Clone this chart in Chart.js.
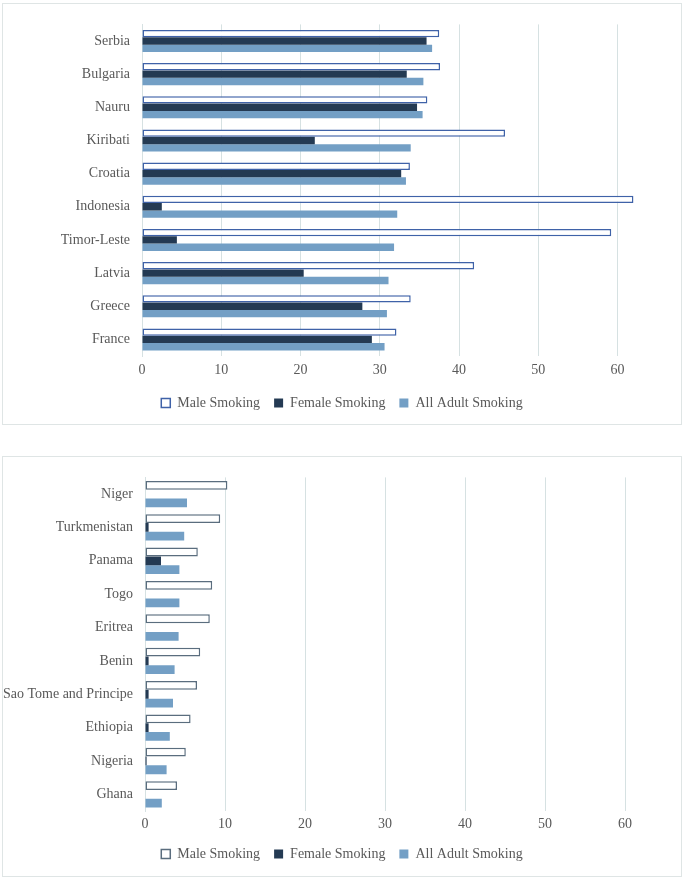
<!DOCTYPE html>
<html>
<head>
<meta charset="utf-8">
<script src="https://cdn.jsdelivr.net/npm/chart.js@4"></script>
<style>
  body { margin: 0; background: #fff; }
  .box { position: absolute; left: 2px; width: 678px; border: 1px solid #dfe5e5; background: #fff; }
  #topBox { top: 3px; height: 420px; }
  #bottomBox { top: 456px; height: 419px; }
</style>
</head>
<body>
<div class="box" id="topBox"><canvas id="topChart"></canvas></div>
<div class="box" id="bottomBox"><canvas id="bottomChart"></canvas></div>
<script>
'use strict';

// highest smoking rates
const topCountries = ['Serbia', 'Bulgaria', 'Nauru', 'Kiribati', 'Croatia', 'Indonesia', 'Timor-Leste', 'Latvia', 'Greece', 'France'];
const topMale = [37.5, 37.6, 36.0, 45.8, 33.8, 62.0, 59.2, 41.9, 33.9, 32.1];
const topFemale = [35.9, 33.4, 34.7, 21.8, 32.7, 2.5, 4.4, 20.4, 27.8, 29.0];
const topAll = [36.6, 35.5, 35.4, 33.9, 33.3, 32.2, 31.8, 31.1, 30.9, 30.6];

// lowest smoking rates
const bottomCountries = ['Niger', 'Turkmenistan', 'Panama', 'Togo', 'Eritrea', 'Benin', 'Sao Tome and Principe', 'Ethiopia', 'Nigeria', 'Ghana'];
const bottomMale = [10.3, 9.4, 6.6, 8.4, 8.1, 6.9, 6.5, 5.7, 5.1, 4.0];
const bottomFemale = [0, 0.45, 2.0, 0, 0, 0.45, 0.45, 0.45, 0.2, 0];
const bottomAll = [5.25, 4.9, 4.3, 4.3, 4.2, 3.7, 3.5, 3.1, 2.7, 2.1];

const seriesNames = ['Male Smoking', 'Female Smoking', 'All Adult Smoking'];

Chart.defaults.font.family = "'Liberation Serif', 'Times New Roman', serif";
Chart.defaults.font.size = 14;
Chart.defaults.color = '#595959';

const gridColor = '#d6e1e2';

const makeChart = (id, labels, male, female, all, opts) => {
  return new Chart(document.getElementById(id).getContext('2d'), {
    type: 'bar',
    data: {
      labels: labels,
      datasets: [
        {
          label: seriesNames[0],
          data: male,
          backgroundColor: '#ffffff',
          borderColor: opts.maleBorder,
          borderWidth: 1.5,
          borderSkipped: false,
        },
        {
          label: seriesNames[1],
          data: female,
          backgroundColor: '#243a53',
          borderWidth: 0,
        },
        {
          label: seriesNames[2],
          data: all,
          backgroundColor: '#739fc5',
          borderWidth: 0,
        },
      ],
    },
    options: {
      indexAxis: 'y',
      responsive: true,
      maintainAspectRatio: false,
      animation: false,
      categoryPercentage: opts.catPct,
      barPercentage: 1,
      layout: {
        padding: { top: opts.padTop, bottom: opts.padBottom, left: 0, right: 0 },
      },
      plugins: {
        legend: {
          position: 'bottom',
          labels: {
            boxWidth: 9,
            boxHeight: 9,
            padding: 14,
            color: '#595959',
          },
        },
        tooltip: { enabled: false },
      },
      scales: {
        x: {
          min: 0,
          max: opts.xMax,
          ticks: { stepSize: 10, includeBounds: false, padding: opts.tickPad },
          grid: { color: gridColor, drawTicks: false },
          border: { display: false },
          afterFit: scale => {
            scale.height = opts.xHeight;
          },
        },
        y: {
          ticks: { padding: 12, autoSkip: false },
          grid: { display: false, drawTicks: false },
          border: { color: gridColor },
          afterFit: scale => {
            scale.width = opts.yWidth;
          },
        },
      },
    },
  });
};

makeChart('topChart', topCountries, topMale, topFemale, topAll, {
  maleBorder: '#3f62a8',
  catPct: 0.665,
  padTop: 16,
  padBottom: 4,
  xMax: 68,
  xHeight: 26,
  tickPad: 6,
  yWidth: 139,
});

makeChart('bottomChart', bottomCountries, bottomMale, bottomFemale, bottomAll, {
  maleBorder: '#5a6d7e',
  catPct: 0.79,
  padTop: 17,
  padBottom: 5,
  xMax: 67,
  xHeight: 22,
  tickPad: 5,
  yWidth: 142,
});
</script>
</body>
</html>
